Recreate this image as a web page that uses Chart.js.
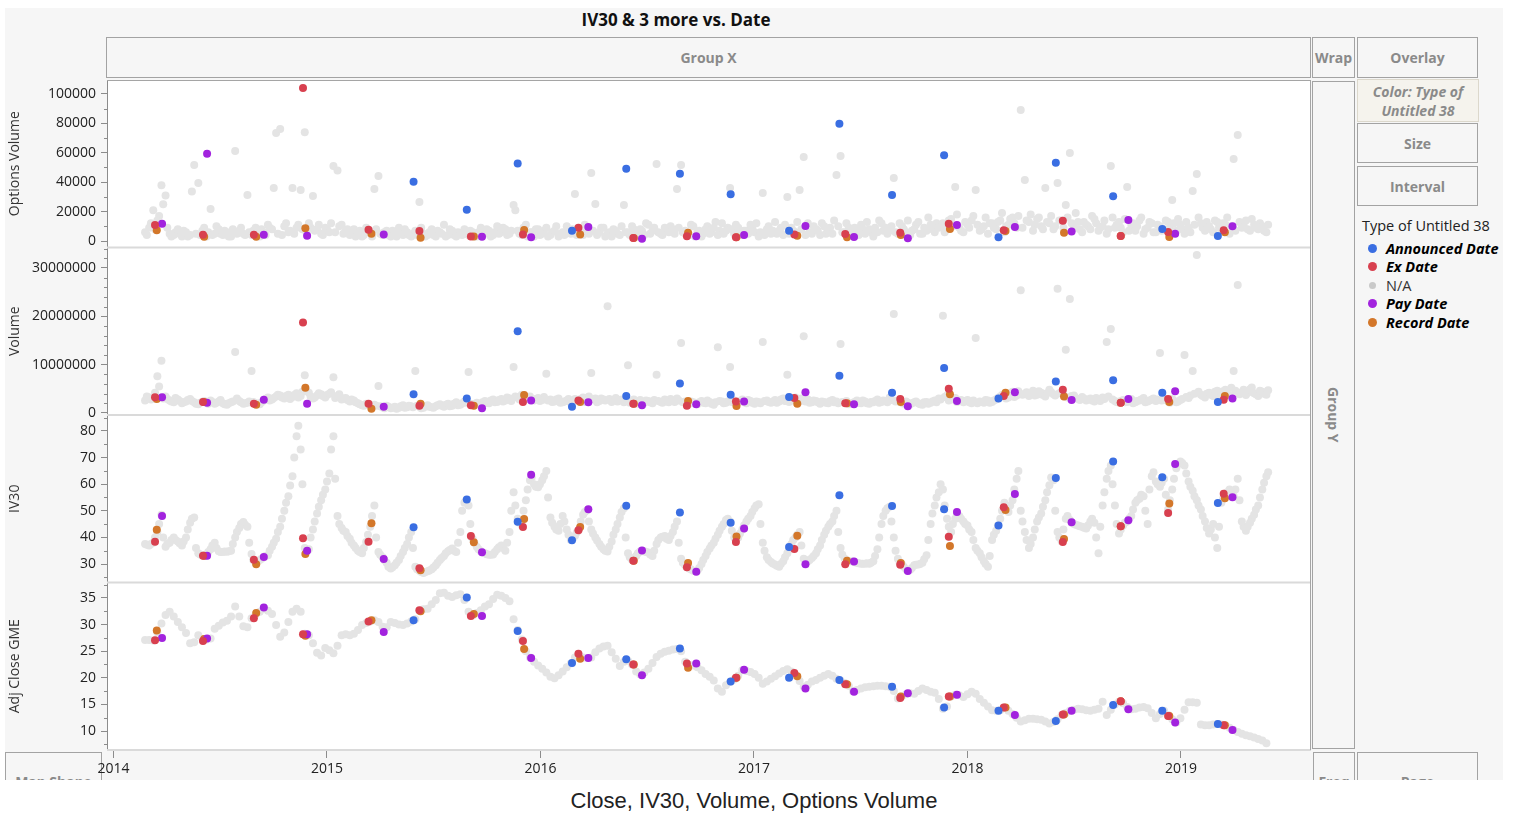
<!DOCTYPE html>
<html lang="en">
<head>
<meta charset="UTF-8">
<title>IV30 &amp; 3 more vs. Date</title>
<script src="https://cdn.jsdelivr.net/npm/chart.js"></script>
<style>
  * { margin: 0; padding: 0; box-sizing: border-box; }
  body { width: 1514px; height: 816px; background: #fff; font-family: 'Open Sans', sans-serif; position: relative; overflow: hidden; }
  .win { position: absolute; left: 0; top: 0; width: 1514px; height: 780px; overflow: hidden; }
  .bg { position: absolute; left: 5px; top: 8px; width: 1498px; height: 772px; background: #f6f6f6; }
  .title { position: absolute; left: 0; top: 8px; width: 1352px; text-align: center; font-weight: 700; font-size: 17px; color: #111; }
  .box { position: absolute; border: 1px solid #a3a3a3; display: flex; align-items: center; justify-content: center; color: #8a8a8a; font-weight: 700; font-size: 14px; text-align: center; line-height: 19px; }
  .box.color { background: #f5f3ed; border-color: #dcd8cc; font-style: italic; }
  .vert { writing-mode: vertical-rl; }
  #chartWrap { position: absolute; left: 0; top: 80px; width: 1311px; height: 700px; }
  .legend { position: absolute; left: 1362px; top: 216px; font-size: 14.5px; color: #222; }
  .legend .head { margin-bottom: 4px; }
  .legend .item { display: flex; align-items: center; height: 18.5px; }
  .legend .dot { display: inline-block; width: 9px; height: 9px; border-radius: 50%; margin: 0 9px 0 6px; }
  .legend .item b { font-style: italic; color: #000; }
  .caption { position: absolute; left: 0; top: 788px; width: 1508px; text-align: center; font-family: 'Liberation Sans', Arial, sans-serif; font-size: 22px; color: #222; }
</style>
</head>
<body>
<div class="win">
  <div class="bg"></div>
  <div class="title">IV30 &amp; 3 more vs. Date</div>
  <div class="box" style="left:106px;top:37px;width:1205px;height:41px;">Group X</div>
  <div class="box" style="left:1312px;top:37px;width:43px;height:41px;">Wrap</div>
  <div class="box" style="left:1357px;top:37px;width:121px;height:41px;">Overlay</div>
  <div class="box color" style="left:1357px;top:79px;width:122px;height:43px;">Color: Type of<br>Untitled 38</div>
  <div class="box" style="left:1357px;top:123px;width:121px;height:40px;">Size</div>
  <div class="box" style="left:1357px;top:166px;width:121px;height:40px;">Interval</div>
  <div class="box" style="left:1312px;top:81px;width:43px;height:668px;"><span class="vert">Group Y</span></div>
  <div class="box" style="left:5px;top:752px;width:97px;height:58px;">Map Shape</div>
  <div class="box" style="left:1313px;top:752px;width:42px;height:58px;">Freq</div>
  <div class="box" style="left:1357px;top:752px;width:121px;height:58px;">Page</div>

  <div class="legend">
    <div class="head">Type of Untitled 38</div>
    <div class="item"><span class="dot" style="background:#3a6ee2"></span><b>Announced Date</b></div>
    <div class="item"><span class="dot" style="background:#d8404f"></span><b>Ex Date</b></div>
    <div class="item"><span class="dot" style="background:#c9c9c9;width:7px;height:7px;margin:0 10px 0 7px"></span><span style="color:#333">N/A</span></div>
    <div class="item"><span class="dot" style="background:#a223de"></span><b>Pay Date</b></div>
    <div class="item"><span class="dot" style="background:#d3772a"></span><b>Record Date</b></div>
  </div>

  <div id="chartWrap"><canvas id="gme" width="1311" height="700"></canvas></div>
</div>
<div class="caption">Close, IV30, Volume, Options Volume</div>

<script>
// ---- background (N/A) series: one reading per week from Monday 2014-02-24 ----
const naStart = '2014-02-24';
// Adj Close GME
const naClose = [
  27.1, 27.1, 27.0, 28.5, 30.2, 31.8, 32.4, 31.5, 30.5, 29.5, 28.4, 26.5, 26.7,
  28.0, 27.3, 27.2, 27.4, 29.2, 29.8, 30.4, 30.7, 31.5, 33.4, 31.5, 29.7, 29.5,
  31.2, 31.9, 32.4, 33.0, 32.6, 32.0, 29.9, 27.7, 28.5, 30.5, 32.4, 33.0, 32.4,
  28.3, 28.0, 26.5, 24.7, 24.2, 25.6, 25.2, 24.6, 26.0, 28.0, 28.2, 28.0, 28.3,
  29.0, 29.9, 30.3, 30.6, 30.8, 30.5, 29.6, 29.5, 30.5, 30.3, 30.0, 29.9, 30.2,
  30.6, 31.0, 32.6, 32.9, 33.0, 33.8, 34.6, 35.9, 36.0, 35.4, 35.2, 35.5, 35.7,
  34.6, 32.4, 31.7, 32.2, 32.7, 33.4, 33.8, 34.8, 35.6, 35.4, 35.0, 34.4, 31.0,
  29.0, 27.2, 25.0, 23.8, 23.0, 22.3, 21.7, 21.0, 20.2, 19.9, 20.5, 21.2, 22.0,
  22.7, 23.8, 24.2, 23.8, 23.7, 23.8, 24.8, 25.5, 25.9, 26.0, 24.8, 23.6, 22.2,
  23.0, 23.2, 22.5, 21.2, 20.6, 21.0, 21.7, 22.8, 23.9, 24.5, 24.9, 25.1, 25.3,
  25.4, 25.0, 23.0, 22.4, 22.3, 22.0, 21.4, 20.7, 20.2, 19.5, 18.0, 17.4, 18.6,
  19.2, 19.7, 20.4, 21.4, 21.3, 21.1, 20.7, 20.0, 18.9, 19.3, 19.8, 20.3, 20.8,
  21.3, 21.6, 21.2, 20.5, 19.4, 18.3, 18.7, 19.3, 19.6, 20.0, 20.4, 20.7, 20.4,
  19.8, 19.5, 19.0, 18.5, 17.5, 17.7, 18.0, 18.2, 18.3, 18.4, 18.5, 18.5, 18.4,
  18.3, 17.5, 16.1, 16.5, 16.9, 17.1, 17.0, 17.5, 18.0, 17.7, 17.4, 17.2, 16.0,
  14.2, 14.6, 16.5, 16.8, 16.7, 16.4, 16.9, 17.4, 17.0, 16.0, 15.3, 14.6, 13.9,
  13.8, 13.9, 14.4, 13.8, 13.2, 12.5, 11.8, 12.0, 12.3, 12.3, 12.2, 12.1, 11.8,
  11.4, 11.7, 12.2, 13.0, 13.4, 13.8, 14.0, 14.2, 14.1, 13.9, 13.8, 14.0, 14.2,
  15.5, 13.0, 14.0, 15.0, 15.5, 15.2, 14.5, 14.1, 14.2, 14.4, 14.5, 14.3, 13.4,
  12.4, 13.2, 13.8, 13.0, 12.2, 11.6, 12.4, 14.0, 15.4, 15.4, 15.3, 11.2, 11.1,
  11.1, 11.2, 11.3, 11.2, 11.1, 10.6, 10.2, 9.8, 9.5, 9.2, 9.0, 8.8, 8.5,
  8.2, 7.7
];
// IV30
const naIV = [
  37.5, 37.0, 38.0, 42.0, 48.5, 36.5, 38.0, 40.0, 38.5, 37.0, 40.0, 45.5, 47.5,
  34.0, 33.3, 33.1, 35.5, 38.0, 34.8, 34.5, 34.6, 35.0, 40.0, 43.5, 45.8, 44.0,
  33.8, 30.5, 31.5, 32.5, 33.3, 36.5, 39.5, 44.0, 50.0, 55.5, 63.0, 78.0, 73.0,
  36.0, 35.5, 43.0, 49.0, 54.0, 58.0, 64.0, 78.0, 48.0, 43.5, 42.0, 39.5, 37.0,
  35.0, 34.0, 38.3, 44.0, 52.0, 34.5, 32.5, 30.5, 28.3, 29.5, 31.5, 34.5, 37.5,
  42.0, 29.0, 27.5, 26.6, 27.3, 28.0, 29.5, 31.5, 33.0, 34.8, 35.8, 34.5, 42.0,
  53.0, 52.0, 39.5, 36.5, 34.8, 34.0, 33.5, 33.6, 35.5, 37.0, 35.0, 42.0, 57.0,
  47.0, 44.5, 54.0, 61.5, 60.0, 58.8, 61.5, 65.0, 47.5, 44.0, 42.5, 48.0, 43.0,
  39.0, 40.5, 43.0, 48.5, 50.2, 43.0, 40.0, 37.5, 35.5, 34.7, 38.5, 43.0, 47.5,
  51.0, 34.0, 31.5, 33.0, 34.8, 34.8, 34.3, 33.0, 37.5, 40.0, 40.5, 39.0, 42.0,
  46.0, 32.0, 29.5, 28.3, 27.5, 27.5, 30.0, 33.0, 35.8, 38.0, 41.0, 44.0, 46.5,
  46.0, 40.0, 40.0, 43.0, 46.0, 48.0, 51.0, 52.5, 38.0, 32.5, 30.8, 29.8, 29.0,
  31.0, 34.0, 37.5, 40.0, 42.0, 32.0, 31.0, 32.3, 34.0, 37.0, 41.0, 44.0, 46.0,
  50.0, 36.0, 32.0, 31.0, 30.9, 30.5, 30.1, 30.1, 30.1, 31.0, 35.5, 45.0, 50.0,
  51.5, 40.0, 32.0, 29.8, 28.0, 27.8, 29.5, 29.8, 30.5, 33.3, 45.0, 52.0, 57.0,
  58.0, 47.0, 42.0, 47.0, 48.0, 46.0, 44.5, 42.0, 36.0, 34.0, 31.0, 29.0, 39.0,
  42.5, 47.0, 53.0, 49.5, 54.0, 62.0, 50.0, 42.0, 36.0, 40.0, 46.0, 49.0, 54.0,
  59.6, 61.5, 42.0, 38.5, 47.0, 46.5, 45.0, 44.5, 44.0, 43.3, 46.0, 45.5, 34.0,
  52.0, 62.0, 67.0, 52.0, 41.5, 44.5, 46.0, 48.0, 53.0, 54.5, 55.5, 45.0, 63.0,
  61.0, 59.0, 62.0, 50.5, 58.0, 66.0, 68.5, 67.0, 61.0, 57.5, 54.0, 50.5, 46.0,
  41.5, 45.0, 36.0, 53.0, 56.0, 58.0, 55.5, 62.0, 46.0, 42.5, 45.5, 48.5, 52.0,
  58.0, 63.0
];
// Volume, millions of shares
const naVolM = [
  2.6, 3.2, 3.0, 7.6, 10.8, 3.4, 2.6, 2.2, 2.8, 2.0, 2.4, 2.9, 2.2,
  1.8, 2.3, 2.1, 2.6, 1.9, 2.4, 2.0, 1.7, 2.2, 12.6, 2.5, 1.9, 2.1,
  8.7, 2.0, 1.8, 2.6, 3.2, 2.8, 3.4, 3.6, 3.0, 3.8, 3.3, 4.1, 3.5,
  7.8, 4.2, 3.0, 3.6, 3.9, 3.2, 4.0, 7.4, 3.5, 2.8, 3.1, 2.4, 2.6,
  2.0, 1.6, 1.9, 1.4, 1.7, 5.6, 1.2, 1.5, 1.0, 1.3, 1.1, 1.6, 1.2,
  1.4, 8.7, 1.3, 1.1, 1.6, 1.2, 1.4, 1.8, 1.3, 1.9, 1.5, 2.2, 1.7,
  2.4, 8.5, 1.8, 2.1, 1.6, 2.5, 2.0, 2.8, 2.3, 2.9, 2.6, 3.0, 9.5,
  3.2, 3.8, 2.9, 3.4, 2.6, 3.1, 2.7, 8.1, 2.8, 2.4, 3.0, 2.2, 2.6,
  2.1, 2.9, 2.4, 3.2, 2.7, 8.3, 3.0, 2.5, 2.8, 22.1, 2.3, 3.1, 2.6,
  2.2, 9.9, 2.4, 1.9, 2.7, 2.1, 2.5, 2.0, 7.9, 2.3, 2.8, 2.2, 2.6,
  3.0, 14.5, 2.4, 1.9, 2.2, 1.8, 2.5, 2.0, 2.3, 1.7, 13.6, 2.4, 2.1,
  9.5, 2.6, 2.2, 2.8, 2.0, 2.5, 1.9, 2.3, 14.7, 2.6, 2.1, 2.7, 2.4,
  3.0, 7.9, 2.6, 3.2, 2.4, 15.9, 2.8, 2.2, 2.5, 1.9, 2.3, 2.0, 2.7,
  2.4, 14.3, 2.2, 1.8, 2.1, 2.6, 2.0, 2.4, 1.9, 2.2, 2.8, 2.3, 2.5,
  3.2, 20.5, 2.6, 2.1, 2.4, 1.8, 2.2, 2.0, 1.7, 2.3, 2.1, 2.6, 3.0,
  20.1, 3.6, 2.8, 3.1, 2.5, 2.2, 2.7, 2.0, 15.5, 2.4, 2.1, 2.6, 2.3,
  2.8, 3.4, 3.9, 3.2, 4.4, 3.6, 25.4, 4.0, 3.5, 4.6, 3.8, 4.2, 3.4,
  4.8, 3.9, 25.7, 4.4, 13.1, 23.6, 3.6, 2.9, 3.3, 2.6, 3.0, 2.4, 2.8,
  3.2, 14.7, 17.4, 2.5, 2.1, 2.7, 2.3, 2.9, 2.2, 2.6, 3.1, 2.4, 2.8,
  2.5, 12.4, 3.0, 2.4, 2.9, 2.2, 2.7, 12.0, 3.1, 8.7, 32.7, 3.8, 3.2,
  4.2, 3.5, 4.6, 3.9, 4.8, 3.6, 8.7, 26.5, 4.3, 3.7, 4.9, 4.1, 3.5,
  4.4, 3.8
];
// Options Volume, thousands of contracts
const naOptK = [
  6, 9, 21, 14, 38, 31, 5, 4, 8, 3, 6, 4, 51.7,
  39.5, 7, 3, 21.8, 5, 8, 4, 6, 3, 61.2, 7, 5, 31.3,
  4, 9, 3, 6, 11, 8, 73.5, 76.2, 10, 6, 36, 9, 34.7,
  74, 12, 30.6, 8, 5, 9, 6, 51, 48, 11, 7, 4, 8,
  5, 3, 9, 6, 35.4, 44.2, 4, 7, 3, 5, 9, 4, 6,
  3, 7, 26.5, 5, 4, 8, 3, 6, 11, 4, 7, 3, 5,
  8, 4, 6, 3, 9, 5, 7, 4, 10, 6, 8, 5, 24.5,
  7, 4, 11, 6, 3, 8, 5, 9, 4, 7, 3, 6, 10,
  5, 32, 8, 4, 7, 46.3, 25.2, 6, 9, 5, 3, 7, 4,
  24.5, 6, 10, 5, 8, 4, 11, 7, 52.4, 5, 9, 6, 8,
  35.4, 51.7, 7, 4, 10, 6, 3, 8, 5, 9, 4, 12, 7,
  36, 5, 9, 4, 7, 11, 6, 3, 32.7, 8, 5, 13, 7,
  4, 29.9, 9, 6, 34.7, 57.1, 12, 5, 8, 4, 10, 7, 5,
  44.9, 57.8, 6, 9, 4, 7, 11, 5, 8, 3, 6, 12, 9,
  7, 42.9, 5, 10, 6, 4, 8, 13, 5, 7, 11, 6, 9,
  12, 8, 15, 36.7, 9, 6, 11, 14, 34.7, 7, 10, 5, 12,
  8, 14, 6, 11, 16, 9, 89.1, 41.5, 13, 7, 15, 10, 36,
  12, 8, 39.5, 14, 24.5, 59.9, 9, 13, 6, 11, 8, 15, 7,
  10, 5, 51, 9, 13, 6, 36.7, 11, 7, 14, 5, 9, 12,
  6, 10, 8, 13, 27.9, 7, 11, 5, 9, 34, 45.6, 12, 7,
  10, 6, 13, 8, 11, 5, 55.8, 72.1, 9, 14, 7, 11, 8,
  10, 6
];

// second weekly reading (Thursdays) for the noisy panels
const midStart = '2014-02-27';
const midIV = [
  37.2, 37.5, 40.0, 45.0, 40.0, 37.5, 39.0, 39.0, 37.8, 38.5, 43.0, 47.0, 36.0,
  33.6, 33.0, 34.5, 37.0, 36.0, 34.5, 34.7, 34.8, 37.5, 42.0, 45.0, 44.8, 38.0,
  31.5, 31.0, 32.0, 33.0, 35.0, 38.0, 42.0, 47.0, 53.0, 59.5, 70.0, 82.0, 60.0,
  35.0, 40.0, 46.0, 51.5, 56.0, 61.0, 73.0, 62.0, 45.0, 42.5, 40.5, 38.0, 36.0,
  34.5, 36.0, 41.0, 48.0, 40.0, 33.5, 31.5, 29.0, 28.8, 30.5, 33.0, 36.0, 40.0,
  36.0, 28.0, 27.0, 27.0, 27.6, 28.7, 30.5, 32.3, 34.0, 35.3, 35.0, 38.0, 50.0,
  54.0, 45.0, 38.0, 35.5, 34.3, 33.7, 33.5, 34.5, 36.3, 36.0, 38.0, 50.0, 52.0,
  45.5, 50.0, 58.0, 62.5, 59.0, 60.0, 63.0, 55.0, 45.5, 43.0, 45.0, 46.0, 41.0,
  39.5, 41.8, 46.0, 49.5, 46.0, 41.5, 38.8, 36.5, 35.0, 36.5, 41.0, 45.0, 49.5,
  40.0, 32.5, 32.0, 34.0, 34.8, 34.5, 33.6, 35.0, 39.0, 40.2, 39.5, 40.5, 44.0,
  38.0, 30.5, 28.8, 27.9, 27.3, 28.5, 31.5, 34.5, 37.0, 39.5, 42.5, 45.0, 47.0,
  42.5, 39.0, 41.5, 44.5, 47.0, 49.5, 52.0, 45.0, 35.0, 31.5, 30.2, 29.3, 30.0,
  32.5, 35.5, 39.0, 41.0, 37.0, 31.5, 31.5, 33.0, 35.5, 39.0, 42.5, 45.0, 48.0,
  42.0, 33.5, 31.5, 31.0, 30.7, 30.3, 30.1, 30.3, 30.5, 33.0, 40.0, 48.0, 51.0,
  46.0, 35.0, 30.5, 29.0, 27.5, 28.5, 29.7, 30.0, 31.8, 39.0, 49.0, 55.0, 60.0,
  52.0, 44.0, 45.0, 48.5, 47.0, 45.0, 43.0, 39.0, 35.0, 32.5, 30.0, 33.0, 41.0,
  44.5, 50.0, 51.0, 52.0, 58.0, 65.0, 46.0, 39.0, 37.5, 43.0, 47.5, 51.5, 57.0,
  62.5, 50.0, 40.0, 43.0, 48.0, 45.5, 44.8, 44.2, 43.6, 44.5, 47.0, 40.0, 44.0,
  57.0, 65.0, 60.0, 45.0, 43.0, 45.5, 47.0, 50.5, 54.0, 56.0, 50.0, 58.0, 64.5,
  60.0, 60.5, 56.0, 54.0, 62.0, 67.5, 68.0, 64.0, 59.0, 55.5, 52.0, 48.0, 43.5,
  43.0, 40.0, 44.0, 54.5, 57.0, 56.5, 58.0, 54.0, 44.0, 44.0, 47.0, 50.5, 55.0,
  60.5, 64.5
];
const midVolM = [
  3.4, 2.8, 4.2, 5.5, 3.0, 2.9, 2.4, 3.1, 2.5, 2.2, 2.7, 2.5, 1.9,
  2.1, 2.5, 1.9, 2.3, 2.1, 2.7, 1.8, 2.0, 2.4, 3.0, 2.2, 2.0, 2.4,
  2.3, 1.9, 2.2, 2.9, 2.6, 3.1, 3.8, 3.2, 3.5, 2.9, 3.7, 3.2, 4.4,
  4.6, 3.4, 3.2, 4.1, 3.5, 3.7, 4.3, 3.1, 3.9, 3.0, 2.7, 2.8, 2.2,
  1.8, 1.5, 1.7, 1.2, 1.5, 1.4, 1.0, 1.3, 1.1, 0.9, 1.4, 1.1, 1.5,
  1.2, 1.5, 1.0, 1.4, 1.3, 1.1, 1.6, 1.5, 1.7, 1.4, 1.9, 1.6, 2.0,
  2.1, 1.9, 1.6, 1.8, 2.2, 2.1, 2.6, 2.2, 2.7, 2.4, 3.2, 2.5, 3.4,
  2.8, 3.1, 3.3, 2.7, 2.9, 2.5, 3.3, 2.6, 2.3, 2.8, 2.1, 2.4, 2.9,
  2.5, 2.6, 2.9, 2.3, 3.4, 2.8, 2.2, 3.0, 2.6, 2.9, 2.7, 2.4, 2.8,
  2.5, 2.1, 2.8, 2.3, 2.4, 2.6, 2.2, 2.7, 2.5, 2.1, 2.4, 2.9, 2.3,
  2.6, 2.2, 2.1, 2.4, 1.9, 2.2, 2.1, 2.6, 1.9, 2.2, 2.5, 2.0, 2.4,
  2.3, 2.0, 2.5, 2.2, 2.7, 2.1, 2.4, 2.0, 2.5, 2.3, 2.4, 2.1, 2.8,
  2.5, 2.3, 2.9, 2.6, 3.0, 2.4, 2.1, 2.6, 2.2, 2.4, 2.1, 2.5, 2.2,
  2.0, 2.3, 2.5, 1.9, 2.3, 2.1, 2.6, 2.0, 2.3, 2.5, 2.1, 2.6, 2.2,
  2.7, 2.4, 2.3, 1.9, 2.1, 2.0, 2.4, 1.8, 2.2, 1.9, 2.4, 2.2, 2.8,
  3.3, 2.6, 2.9, 2.3, 2.7, 2.5, 2.2, 2.6, 2.0, 2.3, 2.7, 2.1, 2.6,
  3.1, 3.7, 3.0, 4.1, 3.3, 4.5, 3.8, 4.3, 3.9, 3.6, 4.5, 3.7, 4.1,
  4.3, 3.6, 4.1, 3.8, 3.2, 3.5, 3.1, 2.7, 3.0, 2.8, 2.6, 3.1, 2.5,
  2.9, 3.4, 2.8, 2.3, 2.5, 2.2, 2.6, 2.0, 2.5, 2.8, 2.2, 2.6, 3.0,
  2.8, 2.6, 2.7, 2.1, 2.5, 2.4, 2.9, 3.3, 3.6, 4.0, 4.4, 3.5, 4.0,
  3.8, 4.4, 3.7, 4.5, 4.0, 5.2, 4.6, 3.9, 4.8, 4.2, 5.3, 3.9, 4.6,
  4.0, 4.7
];
const midOptK = [
  4, 12, 8, 17, 25, 9, 3, 6, 5, 7, 3, 33.6, 5,
  4, 9, 6, 4, 10, 5, 7, 3, 8, 5, 9, 4, 6,
  7, 5, 8, 4, 9, 36, 5, 4, 12, 7, 5, 11, 8,
  6, 9, 7, 11, 4, 8, 12, 6, 10, 5, 8, 5, 3,
  7, 4, 6, 3, 8, 5, 6, 4, 7, 3, 5, 8, 4,
  5, 4, 9, 3, 6, 4, 7, 5, 3, 8, 4, 6, 4,
  5, 7, 3, 6, 4, 8, 3, 6, 5, 9, 4, 7, 21,
  5, 9, 3, 6, 8, 4, 7, 3, 6, 10, 5, 4, 7,
  8, 4, 6, 11, 5, 7, 4, 9, 3, 6, 8, 5, 10,
  6, 4, 8, 3, 7, 12, 5, 9, 6, 4, 7, 10, 5,
  9, 6, 4, 11, 3, 7, 5, 10, 6, 13, 7, 5, 9,
  8, 11, 4, 7, 5, 9, 12, 6, 4, 10, 7, 5, 9,
  11, 5, 7, 13, 8, 4, 6, 10, 7, 12, 5, 9, 14,
  10, 6, 12, 5, 9, 4, 8, 13, 6, 9, 14, 7, 5,
  10, 6, 12, 8, 14, 7, 11, 5, 9, 16, 8, 12, 10,
  6, 14, 10, 18, 7, 13, 9, 17, 11, 8, 16, 12, 9,
  13, 19, 10, 15, 12, 17, 9, 14, 18, 11, 16, 8, 13,
  17, 10, 14, 9, 16, 12, 19, 8, 13, 10, 17, 12, 9,
  14, 8, 16, 11, 9, 15, 7, 12, 10, 16, 8, 13, 6,
  11, 7, 14, 9, 12, 15, 8, 13, 6, 11, 16, 9, 13,
  8, 14, 9, 12, 16, 10, 7, 13, 11, 8, 15, 9, 12,
  7, 11
];

// ---- dividend events ----
const annDates = ['2015-05-29','2015-08-28','2015-11-23','2016-02-24','2016-05-27','2016-08-27','2016-11-22','2017-03-02',
  '2017-05-27','2017-08-25','2017-11-22','2018-02-23','2018-06-01','2018-09-07','2018-11-30','2019-03-05'];
const annOptK = [40.3, 21.3, 52.8, 7.0, 49.2, 45.8, 31.8, 7.0, 79.8, 31.3, 58.3, 2.5, 53.3, 30.4, 8.2, 3.4];
const annVolM = [3.9, 3.0, 16.9, 1.3, 3.5, 6.1, 3.8, 3.3, 7.7, 4.2, 9.3, 3.0, 6.5, 6.8, 4.2, 2.3];
const annIV = [43.8, 54.2, 45.9, 38.9, 51.9, 49.4, 45.5, 36.4, 55.8, 51.8, 50.6, 44.5, 62.3, 68.5, 62.6, 52.9];
const annClose = [30.8, 35.1, 28.8, 22.8, 23.5, 25.5, 19.3, 20.0, 19.6, 18.3, 14.4, 13.8, 11.9, 14.9, 13.8, 11.3];

const exDates = ['2014-03-13','2014-06-03','2014-08-29','2014-11-21','2015-03-13','2015-06-08','2015-09-04','2015-12-02',
  '2016-03-06','2016-06-08','2016-09-08','2016-12-01','2017-03-11','2017-06-06','2017-09-08','2017-11-30',
  '2018-03-04','2018-06-13','2018-09-20','2018-12-10','2019-03-15'];
const exOptK = [10.9, 4.3, 4.3, 104, 7.7, 6.8, 3.0, 4.5, 9.0, 2.0, 3.2, 2.5, 4.5, 4.8, 5.6, 11.8, 7.3, 13.8, 3.4, 6.1, 7.3];
const exVolM = [3.25, 2.3, 1.9, 18.7, 1.9, 1.5, 1.6, 2.3, 2.6, 1.9, 1.5, 2.4, 3.1, 2.0, 2.9, 5.0, 3.5, 4.8, 2.1, 2.9, 2.75];
const exIV = [38.4, 33.1, 31.6, 39.7, 38.4, 28.4, 40.5, 43.9, 42.7, 31.2, 28.8, 38.3, 35.6, 29.9, 29.7, 40.2, 51.3, 38.3, 44.2, 49.2, 56.4];
const exClose = [27.05, 26.9, 31.2, 28.2, 30.6, 32.7, 31.6, 26.9, 24.5, 22.5, 22.7, 20.0, 20.9, 18.8, 16.2, 16.5, 14.4, 13.1, 15.6, 12.8, 11.1];

const recDates = ['2014-03-16','2014-06-05','2014-09-02','2014-11-25','2015-03-18','2015-06-10','2015-09-09','2015-12-04',
  '2016-03-09','2016-06-09','2016-09-10','2016-12-02','2017-03-16','2017-06-09','2017-09-09','2017-12-02',
  '2018-03-07','2018-06-15','2018-09-20','2018-12-12','2019-03-17'];
const recOptK = [7.3, 2.9, 2.9, 8.6, 5.0, 2.2, 3.0, 7.5, 4.5, 2.0, 5.6, 2.5, 3.6, 2.5, 4.0, 8.2, 6.8, 5.6, 3.4, 2.7, 5.9];
const recVolM = [2.9, 2.3, 1.7, 5.2, 0.9, 1.9, 1.5, 3.7, 2.3, 1.9, 2.5, 1.45, 1.9, 2.0, 2.3, 3.9, 4.2, 3.4, 2.1, 2.3, 3.5];
const recIV = [42.9, 33.1, 29.9, 33.8, 45.3, 27.7, 38.2, 46.9, 43.9, 31.2, 30.4, 40.3, 40.6, 31.2, 30.4, 36.8, 50.3, 39.4, 44.2, 52.7, 54.7];
const recClose = [28.9, 27.3, 32.2, 27.9, 30.8, 32.5, 32.0, 25.4, 23.6, 22.5, 21.9, 20.0, 20.3, 18.8, 16.5, 16.5, 14.4, 13.1, 15.6, 12.8, 11.1];

const payDates = ['2014-03-25','2014-06-10','2014-09-15','2014-11-28','2015-04-08','2015-09-23','2015-12-16','2016-03-23',
  '2016-06-23','2016-09-24','2016-12-15','2017-03-30','2017-06-21','2017-09-21','2017-12-14','2018-03-23',
  '2018-06-28','2018-10-03','2018-12-22','2019-03-30'];
const payOptK = [11.8, 59.4, 4.3, 3.6, 4.5, 2.9, 2.5, 9.5, 1.6, 3.2, 4.1, 10.2, 2.7, 1.8, 10.9, 9.5, 6.5, 14.3, 5.0, 10.0];
const payVolM = [3.25, 2.1, 2.75, 1.9, 1.3, 1.0, 2.6, 2.2, 1.6, 1.8, 2.4, 4.3, 1.8, 1.4, 2.5, 4.3, 2.7, 2.9, 4.5, 3.0];
const payIV = [48.0, 33.1, 32.6, 35.0, 31.9, 34.4, 63.5, 50.6, 35.1, 27.1, 43.3, 29.9, 30.9, 27.4, 49.5, 56.3, 45.7, 46.4, 67.6, 55.1];
const payClose = [27.5, 27.4, 33.2, 28.2, 28.6, 31.6, 23.7, 23.7, 20.5, 22.7, 21.5, 18.0, 17.4, 17.1, 16.8, 13.0, 13.8, 14.1, 11.6, 10.2];

// axis ticks
const yearTicks = [2014, 2015, 2016, 2017, 2018, 2019];
const optTicks = [0, 20000, 40000, 60000, 80000, 100000];
const volTicks = [0, 10000000, 20000000, 30000000];
const ivTicks = [30, 40, 50, 60, 70, 80];
const closeTicks = [10, 15, 20, 25, 30, 35];

const FONT = "'Open Sans', sans-serif";
const AXIS = '#8c8c8c';

function decYear(s) {
  const [y, m, d] = s.split('-').map(Number);
  const a = Date.UTC(y, 0, 1), b = Date.UTC(y + 1, 0, 1);
  return y + (Date.UTC(y, m - 1, d) - a) / (b - a);
}
function weekly(start, n) {
  const [y, m, d] = start.split('-').map(Number);
  const out = [];
  for (let i = 0; i < n; i++) {
    out.push(new Date(Date.UTC(y, m - 1, d + 7 * i)).toISOString().slice(0, 10));
  }
  return out;
}

const GRAY = '#e4e4e4';
const groups = [
  { color: '#3a6ee2', dates: annDates, opt: annOptK, vol: annVolM, iv: annIV, close: annClose, order: 0 },
  { color: '#d8404f', dates: exDates, opt: exOptK, vol: exVolM, iv: exIV, close: exClose, order: 0 },
  { color: '#a223de', dates: payDates, opt: payOptK, vol: payVolM, iv: payIV, close: payClose, order: 0 },
  { color: '#d3772a', dates: recDates, opt: recOptK, vol: recVolM, iv: recIV, close: recClose, order: 0 },
  { color: GRAY, dates: weekly(naStart, naClose.length), opt: naOptK, vol: naVolM, iv: naIV, close: naClose, order: 5 },
  { color: GRAY, dates: weekly(midStart, midIV.length), opt: midOptK, vol: midVolM, iv: midIV, order: 5 }
];
const panels = [
  { axis: 'yOpt', key: 'opt', unit: 1000 },
  { axis: 'yVol', key: 'vol', unit: 1000000 },
  { axis: 'yIV', key: 'iv', unit: 1 },
  { axis: 'yClose', key: 'close', unit: 1 }
];

const datasets = [];
groups.forEach(g => {
  panels.forEach(p => {
    if (!g[p.key]) return;
    datasets.push({
      data: g.dates.map((d, i) => ({ x: decYear(d), y: g[p.key][i] * p.unit })),
      yAxisID: p.axis,
      xAxisID: 'x',
      backgroundColor: g.color,
      borderWidth: 0,
      pointRadius: 4,
      pointHoverRadius: 4,
      order: g.order
    });
  });
});

const MINOR = { yOpt: 10000, yVol: 2000000, yIV: 5, yClose: 2.5 };

function yAxis(title, min, max, ticks) {
  return {
    type: 'linear', position: 'left', stack: 'panels', stackWeight: 1,
    min: min, max: max,
    afterBuildTicks: s => { s.ticks = ticks.map(v => ({ value: v })); },
    title: { display: true, text: title, color: '#333', font: { family: FONT, size: 14 }, padding: { top: 7, bottom: 0 } },
    ticks: { autoSkip: false, color: '#222', font: { family: FONT, size: 14 }, padding: 5, callback: v => String(v) },
    grid: { drawOnChartArea: false, drawTicks: true, tickLength: 6, color: AXIS },
    border: { display: true, color: AXIS },
    afterFit: s => { s.width = 107; s.paddingTop = 0; s.paddingBottom = 0; }
  };
}

const panelPlugin = {
  id: 'panels',
  beforeDraw(chart) {
    const { ctx, chartArea: a } = chart;
    ctx.save();
    ctx.fillStyle = '#fff';
    ctx.fillRect(a.left, a.top, a.right - a.left, a.bottom - a.top);
    ctx.restore();
  },
  afterDraw(chart) {
    const { ctx, chartArea: a } = chart;
    ctx.save();
    ctx.strokeStyle = '#dadada';
    ctx.lineWidth = 2;
    ['yOpt', 'yVol', 'yIV'].forEach(id => {
      const y = chart.scales[id].bottom;
      ctx.beginPath(); ctx.moveTo(a.left, y); ctx.lineTo(a.right, y); ctx.stroke();
    });
    ctx.beginPath(); ctx.moveTo(a.left, a.bottom); ctx.lineTo(a.right, a.bottom); ctx.stroke();
    ctx.strokeStyle = '#a5a5a5';
    ctx.lineWidth = 1;
    ctx.beginPath();
    ctx.moveTo(a.left, a.top + 0.5); ctx.lineTo(a.right, a.top + 0.5);
    ctx.moveTo(a.right - 0.5, a.top); ctx.lineTo(a.right - 0.5, a.bottom);
    ctx.stroke();
    // minor ticks
    ctx.strokeStyle = AXIS;
    Object.keys(MINOR).forEach(id => {
      const s = chart.scales[id], step = MINOR[id];
      const major = s.ticks.map(t => t.value);
      for (let v = Math.ceil(s.min / step) * step; v <= s.max; v += step) {
        if (major.some(m => Math.abs(m - v) < step / 10)) continue;
        const y = Math.round(s.getPixelForValue(v)) + 0.5;
        ctx.beginPath(); ctx.moveTo(s.right - 3, y); ctx.lineTo(s.right, y); ctx.stroke();
      }
    });
    ctx.restore();
  }
};

new Chart(document.getElementById('gme'), {
  type: 'scatter',
  data: { datasets: datasets },
  plugins: [panelPlugin],
  options: {
    responsive: false,
    animation: false,
    layout: { padding: 0, autoPadding: false },
    plugins: { legend: { display: false }, tooltip: { enabled: false } },
    scales: {
      x: {
        type: 'linear', min: 2013.9696, max: 2019.6089,
        afterBuildTicks: s => { s.ticks = yearTicks.map(v => ({ value: v })); },
        ticks: { autoSkip: false, color: '#222', font: { family: FONT, size: 14 }, padding: 3, maxRotation: 0, callback: v => String(v) },
        grid: { drawOnChartArea: false, drawTicks: true, tickLength: 8, color: AXIS },
        border: { display: true, color: '#cfcfcf' },
        afterFit: s => { s.height = 30; s.paddingLeft = 0; s.paddingRight = 0; }
      },
      yClose: yAxis('Adj Close GME', 6.43, 37.91, closeTicks),
      yIV: yAxis('IV30', 23.05, 86.0, ivTicks),
      yVol: yAxis('Volume', -414000, 34240000, volTicks),
      yOpt: yAxis('Options Volume', -4420, 109520, optTicks)
    }
  }
});
</script>
</body>
</html>
